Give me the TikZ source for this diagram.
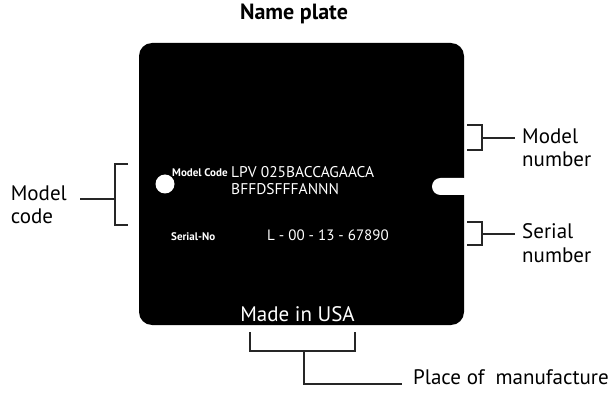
\documentclass[tikz,border=0pt]{standalone}
\usepackage{fontspec}
\setmainfont{PT Sans}
\usetikzlibrary{positioning}
\definecolor{PlateBlack}{HTML}{000000}
\definecolor{PlateWhite}{HTML}{FFFFFF}
\definecolor{LeadLine}{HTML}{262626}
\tikzset{
  platebig/.style={text=PlateWhite,inner sep=0pt,align=left,
    font=\fontsize{15.5}{17}\selectfont},
  platesmall/.style={text=PlateWhite,inner sep=0pt,
    font=\bfseries\fontsize{11}{12}\selectfont},
  calloutlabel/.style={inner sep=0pt,align=left,font=\fontsize{21}{23.5}\selectfont},
  bracketline/.style={draw=LeadLine,line width=1.1pt},
}

\begin{document}
\begin{tikzpicture}[x=1pt,y=-1pt]
  \useasboundingbox (0,0) rectangle (614,393);
  % the plate with its hole and slot
  \fill[PlateBlack,rounded corners=13pt] (139,43) rectangle (464,325);
  \fill[PlateWhite,rounded corners=8.5pt] (432,178) rectangle (472,195);
  \fill[PlateWhite] (165,184) circle (9.5);
  \node[font=\bfseries\fontsize{22}{24}\selectfont,inner sep=0pt,anchor=base] (title) at (294,20) {Name plate};
  % texts on the plate
  \node[platesmall,anchor=base west] (mcode) at (172,177) {Model Code};
  \node[platebig,anchor=base west] (mcodeval) at (231,195) {LPV 025BACCAGAACA\\BFFDSFFFANNN};
  \node[platesmall,anchor=base west] (serial) at (171,241) {Serial-No};
  \node[platebig,anchor=base west,font=\fontsize{15}{17}\selectfont] (serialval) at (267,241) {L - 00 - 13 - 67890};
  \node[text=PlateWhite,inner sep=0pt,font=\fontsize{21}{24}\selectfont,anchor=base] (made) at (297.5,322) {Made in USA};
  % callout labels
  \node[calloutlabel,anchor=base east] (lcLabel) at (67,224) {Model\\code};
  \node[calloutlabel,anchor=base west] (mnLabel) at (522,167) {Model\\number};
  \node[calloutlabel,anchor=base west] (snLabel) at (522,262) {Serial\\number};
  \node[calloutlabel,anchor=base west] (pmLabel) at (413,384) {Place of\ \ manufacture};
  % brackets
  \coordinate (lbMid) at (115,199);
  \draw[bracketline] (128,164) -| (lbMid) |- (128,225);
  \draw[bracketline,shorten <=13pt] (lcLabel.east |- lbMid) -- (lbMid);
  \coordinate (mbMid) at (482,138);
  \draw[bracketline] (467,125) -| (mbMid) |- (467,150);
  \draw[bracketline,shorten >=7pt] (mbMid) -- (mnLabel.west |- mbMid);
  \coordinate (sbMid) at (482,234);
  \draw[bracketline] (467,222) -| (sbMid) |- (467,245);
  \draw[bracketline,shorten >=7pt] (sbMid) -- (snLabel.west |- sbMid);
  \coordinate (bbMid) at (304,351);
  \draw[bracketline] (250,332) |- (bbMid) -| (355,332);
  \draw[bracketline,shorten >=11pt] (bbMid) |- (pmLabel.base west);
\end{tikzpicture}
\end{document}
